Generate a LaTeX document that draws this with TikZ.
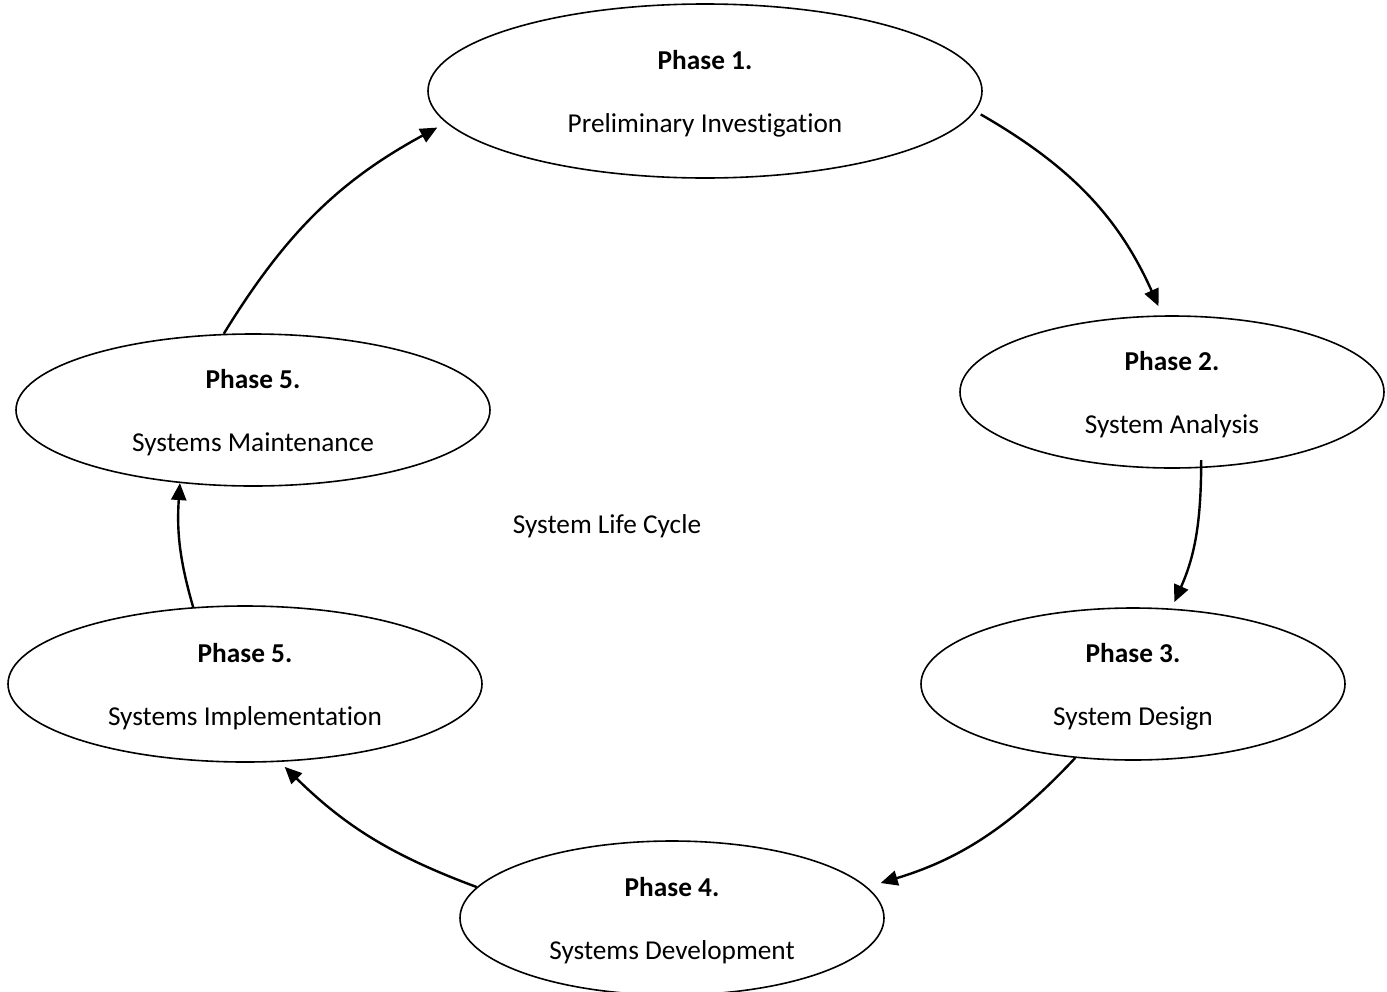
\documentclass[tikz,border=0pt]{standalone}
\usepackage{fontspec}
\setmainfont[Ligatures=NoCommon]{Carlito}
\usetikzlibrary{shapes.geometric,arrows.meta}
\newcommand{\toplift}{\rule{0pt}{24pt}}
\begin{document}
\begin{tikzpicture}[x=1pt,y=-1pt,
  phase/.style={draw=black, line width=1.6pt, ellipse, inner sep=0pt, align=center,
    font={\fontsize{27.3}{63}\selectfont}},
  small/.style={phase, minimum width=424pt, minimum height=152pt},
  wide/.style={phase, minimum width=474pt, minimum height=154pt},
  flow/.style={line width=2.4pt, -{Triangle[length=17pt,width=15pt]}},
  lbl/.style={font={\fontsize{27.3}{33}\selectfont}}]
\useasboundingbox (0,0) rectangle (1387,991);
\node[phase, minimum width=554pt, minimum height=174pt] (e1) at (705,91) {\toplift\textbf{Phase 1.}\\Preliminary Investigation};
\node[small] (e2) at (1172,392) {\toplift\textbf{Phase 2.}\\System Analysis};
\node[small] (e3) at (1133,684) {\toplift\textbf{Phase 3.}\\System Design};
\node[small, minimum height=154pt] (e4) at (672,918) {\toplift\textbf{Phase 4.}\\Systems Development};
\node[wide, minimum height=156pt] (e5) at (245,684) {\toplift\textbf{Phase 5.}\\Systems Implementation};
\node[wide, minimum height=152pt] (e6) at (253,410) {\toplift\textbf{Phase 5.}\\Systems Maintenance};
\node[lbl] (t) at (607,526) {System Life Cycle};
\draw[flow, shorten >=10pt] ([xshift=8pt]e1.-5) to[bend left=18] (e2.97);
\draw[flow, shorten <=-8pt, shorten >=7pt] (e2.-69) to[bend left=12] (e3.63);
\draw[flow, shorten >=14pt] (e3.232) to[bend left=15] (e4.9);
\draw[flow, shorten >=7pt] (e4.171) to[bend left=12] (e5.-66);
\draw[flow, shorten >=0pt] (e5.124) to[bend left=10] (e6.225);
\draw[flow, shorten >=10pt] (e6.111) to[bend left=15] (e1.187);
\end{tikzpicture}
\end{document}
